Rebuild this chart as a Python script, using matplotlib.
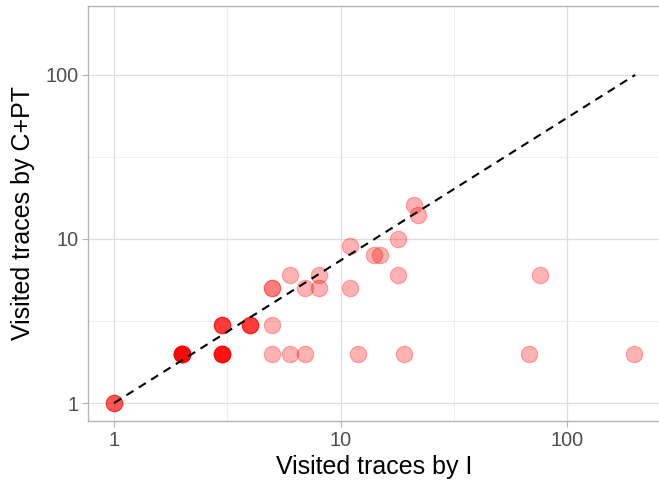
import numpy as np
import matplotlib.pyplot as plt
from matplotlib.ticker import FixedLocator, NullFormatter

# --- Datos ---
# Cada punto se repite tantas veces como se superpone en el original.
visited_i = [1, 1, 1,
             2, 2, 2, 2, 2, 2, 2, 2, 2, 2,
             3, 3, 3, 3, 3, 3, 3,
             3, 3, 3, 3,
             4, 4, 4, 4,
             5, 5, 5, 5,
             6, 6, 7, 7, 8, 8,
             11, 11, 12, 14, 15, 18, 18, 19, 21, 22,
             68, 76, 198]
visited_cpt = [1, 1, 1,
               2, 2, 2, 2, 2, 2, 2, 2, 2, 2,
               2, 2, 2, 2, 2, 2, 2,
               3, 3, 3, 3,
               3, 3, 3, 3,
               5, 5, 3, 2,
               6, 2, 5, 2, 6, 5,
               9, 5, 2, 8, 8, 10, 6, 2, 16, 14,
               2, 6, 2]

# Línea de referencia (discontinua)
ref_x = [1, 200]
ref_y = [1, 100]

X_TICKS = [1, 10, 100]
Y_TICKS = [1, 10, 100]

plt.rcParams['font.family'] = ['Liberation Sans', 'DejaVu Sans']

fig = plt.figure(figsize=(6.59, 4.83), dpi=100)
ax = fig.add_axes([88 / 659, 62 / 483, (661 - 88) / 659, (421 - 6) / 483])

ax.set_xscale('log')
ax.set_yscale('log')
ax.set_xlim(0.767, 260)
ax.set_ylim(0.777, 263)

ax.scatter(visited_i, visited_cpt, s=140, color='red', alpha=0.3,
           edgecolors='red', linewidths=0.8, zorder=3)
ax.plot(ref_x, ref_y, color='black', linestyle=(0, (4, 3)), lw=1.5, zorder=4)

# Rejilla estilo theme_light
ax.xaxis.set_major_locator(FixedLocator(X_TICKS))
ax.yaxis.set_major_locator(FixedLocator(Y_TICKS))
ax.xaxis.set_minor_locator(FixedLocator([10 ** 0.5, 10 ** 1.5]))
ax.yaxis.set_minor_locator(FixedLocator([10 ** 0.5, 10 ** 1.5]))
ax.xaxis.set_minor_formatter(NullFormatter())
ax.yaxis.set_minor_formatter(NullFormatter())
ax.set_xticklabels([str(v) for v in X_TICKS])
ax.set_yticklabels([str(v) for v in Y_TICKS])
ax.grid(which='major', color='#dedede', lw=0.9)
ax.grid(which='minor', color='#ececec', lw=0.6)
ax.set_axisbelow(True)

for sp in ax.spines.values():
    sp.set_color('#b3b3b3')
    sp.set_linewidth(1.0)

ax.tick_params(which='major', length=4.5, width=0.8, color='#b3b3b3',
               labelcolor='#4d4d4d', labelsize=14.3, pad=2.5)
ax.tick_params(which='minor', length=0)

ax.set_xlabel('Visited traces by I', fontsize=18, labelpad=4)
ax.set_ylabel('Visited traces by C+PT', fontsize=18, labelpad=7)

fig.savefig('out.png', dpi=100)
